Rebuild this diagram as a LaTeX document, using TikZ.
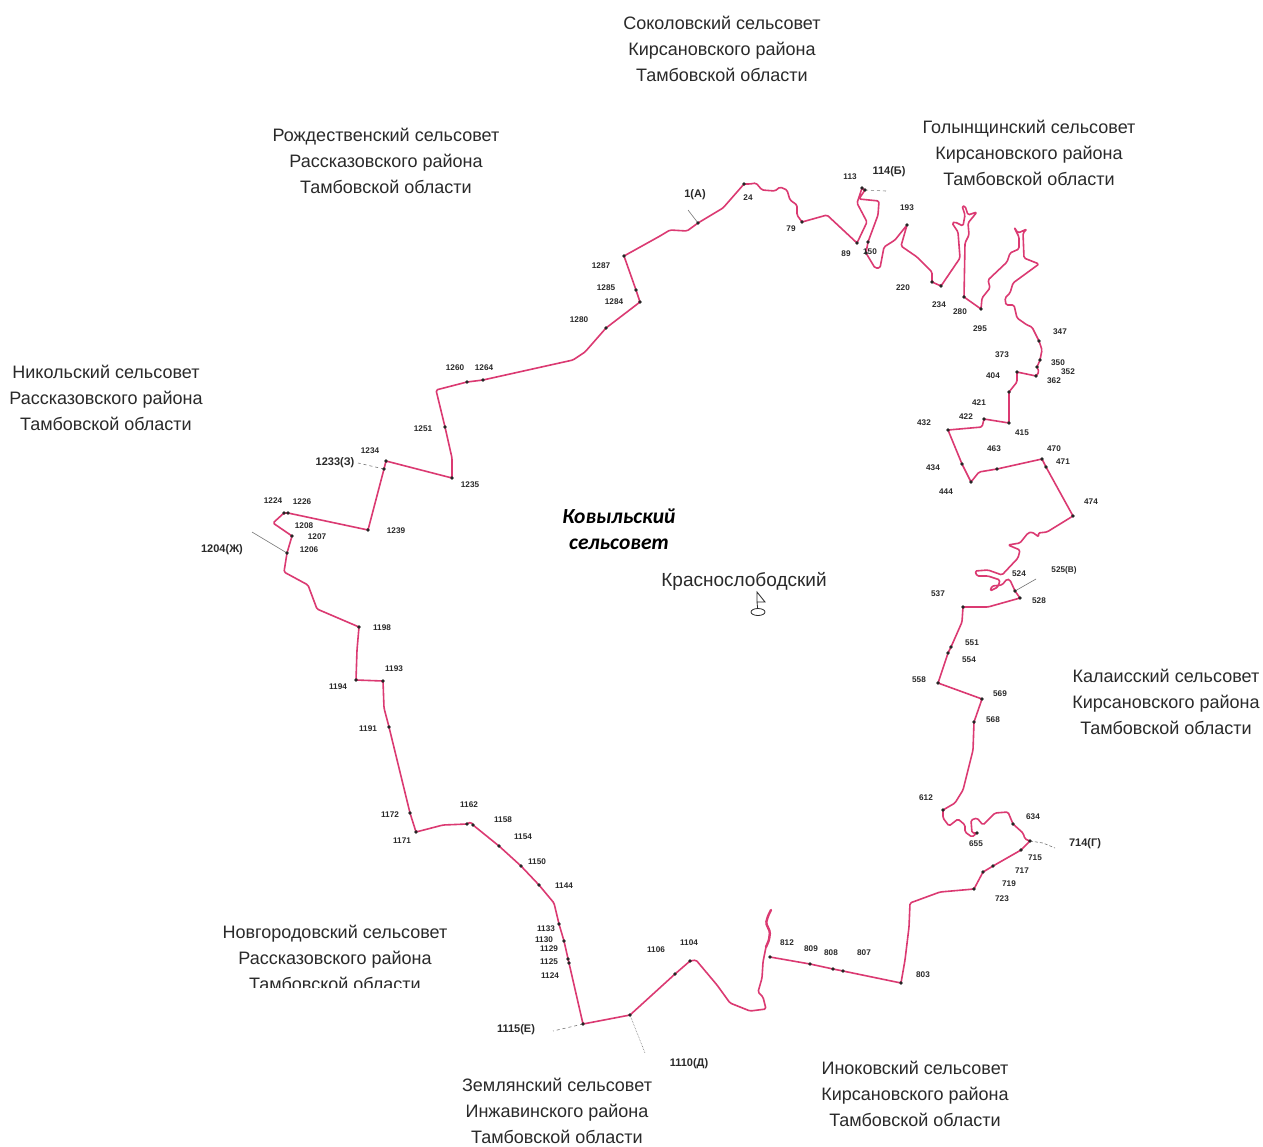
\documentclass[tikz,border=0pt]{standalone}
\usepackage{fontspec}
\setmainfont{Liberation Sans}
\newfontfamily\carl{Carlito}
\definecolor{bound}{HTML}{DB3A72}
\definecolor{lead}{HTML}{777777}
\definecolor{txt}{HTML}{2A2A2A}
\tikzset{
  region/.style={align=center,inner sep=0pt,text=txt,font=\fontsize{18}{26}\selectfont},
  lab/.style={inner sep=0pt,text=txt,font=\fontsize{8.2}{9}\selectfont\bfseries},
  biglab/.style={inner sep=0pt,text=txt,font=\fontsize{11}{12}\selectfont\bfseries},
  border/.style={draw=bound,line width=1.6pt,line join=round,line cap=round,rounded corners=1.5pt},
  leader/.style={draw=lead,line width=0.6pt},
  mark dot/.style={circle,fill=black!85,inner sep=0pt,minimum size=3.6pt}
}
\begin{document}
\begin{tikzpicture}[x=1pt,y=-1pt]
\useasboundingbox (0,0) rectangle (1263,1146);
\fill[white] (0,0) rectangle (1263,1146);
% leaders
\coordinate (pA) at (698,223); \coordinate (eA) at (688,210);
\coordinate (pB) at (865,190); \coordinate (eB) at (886,191);
\coordinate (pV) at (1015,591); \coordinate (eV) at (1036,579);
\coordinate (pG) at (1030,841); \coordinate (eG) at (1055,848); \coordinate (mG) at (1043,843);
\coordinate (pE) at (583,1024); \coordinate (eE) at (553,1031);
\coordinate (pD) at (630,1015); \coordinate (eD) at (645,1053);
\coordinate (pZh) at (287,553); \coordinate (eZh) at (252,532);
\coordinate (pZ) at (384,469); \coordinate (eZ) at (358,463);
\draw[leader] (pA) -- (eA);
\draw[leader,dashed] (pB) -- (eB);
\draw[leader] (pV) -- (eV);
\draw[leader,densely dashed] (pG) -- (mG) -- (eG);
\draw[leader,dashed] (pE) -- (eE);
\draw[leader,densely dotted] (pD) -- (eD);
\draw[leader] (pZh) -- (eZh);
\draw[leader,dashed] (pZ) -- (eZ);
% boundary
\draw[border]
 (624,256) -- (660,236) -- (670,230) -- (687,231) -- (698,223) -- (723,208) -- (744,184)
 -- (750,184) -- (756,183) -- (762,190) -- (775,191) -- (780,187) -- (787,190) -- (790,200)
 -- (797,205) -- (797,215) -- (802,222) -- (827,215) -- (857,243) -- (867,222) -- (857,203)
 -- (862,188) -- (865,190) -- (859,199) -- (879,201) -- (878,215) -- (868,242) -- (866,253)
 -- (875,268) -- (880,268) -- (884,247) -- (895,240) -- (907,225) -- (901,246) -- (917,257)
 -- (932,272) -- (932,282) -- (941,286) -- (960,258) -- (958,232) -- (952,223) -- (955,222)
 -- (963,226) -- (965,215) -- (962,206) -- (965,206) -- (968,215) -- (977,212) -- (968,223)
 -- (969,235) -- (965,243) -- (964,297) -- (981,309) -- (982,298) -- (990,288) -- (988,280)
 -- (1007,262) -- (1010,253) -- (1019,249) -- (1019,237) -- (1014,227) -- (1018,233)
 -- (1027,229) -- (1023,233) -- (1024,258) -- (1039,264) -- (1013,283) -- (1010,293)
 -- (1005,298) -- (1006,305) -- (1014,305) -- (1017,318) -- (1027,325) -- (1032,327)
 -- (1039,341) -- (1042,350) -- (1040,360) -- (1037,367) -- (1039,372) -- (1036,376)
 -- (1017,372) -- (1017,382) -- (1009,392) -- (1009,423) -- (984,419) -- (982,427)
 -- (948,430) -- (962,464) -- (971,482) -- (979,472) -- (997,469) -- (1042,459) -- (1046,467)
 -- (1073,516) -- (1047,532) -- (1038,533) -- (1039,537) -- (1032,532) -- (1028,533)
 -- (1020,543) -- (1008,545) -- (1020,550) -- (1018,558) -- (1002,575) -- (988,570)
 -- (975,571) -- (977,576) -- (988,576) -- (1000,580) -- (998,587) -- (990,591) -- (992,586)
 -- (1002,585) -- (1007,579) -- (1010,580) -- (1015,591) -- (1020,598) -- (988,607)
 -- (963,607) -- (962,622) -- (951,647) -- (948,653) -- (938,683) -- (982,699) -- (974,722)
 -- (973,750) -- (968,770) -- (963,790) -- (955,803) -- (943,810) -- (943,818) -- (949,826)
 -- (958,819) -- (965,825) -- (965,832) -- (972,837) -- (977,833) -- (972,833) -- (971,820)
 -- (977,818) -- (983,825) -- (995,813) -- (1008,812) -- (1013,824) -- (1023,833)
 -- (1025,839) -- (1030,841) -- (1021,850) -- (993,866) -- (983,872) -- (974,889)
 -- (940,892) -- (910,903) -- (909,927) -- (905,960) -- (901,983) -- (843,971) -- (833,969)
 -- (810,964) -- (770,957);
\draw[border] (766,947) -- (763,962) -- (762,978) -- (758,992) -- (763,997) -- (766,1009)
 -- (750,1011) -- (730,1003) -- (717,985) -- (696,960) -- (690,961) -- (675,974)
 -- (630,1015) -- (583,1024) -- (569,963) -- (564,941) -- (559,924) -- (554,903)
 -- (539,885) -- (521,866) -- (499,846) -- (473,825) -- (471,822) -- (467,824) -- (443,825)
 -- (416,832) -- (410,813) -- (389,727) -- (384,708) -- (383,681) -- (356,680) -- (357,650)
 -- (359,627) -- (317,609) -- (308,585) -- (284,572) -- (287,553) -- (292,536) -- (273,523)
 -- (284,513) -- (288,513) -- (368,530) -- (384,469) -- (386,461) -- (452,478) -- (452,458)
 -- (445,427) -- (436,390) -- (467,382) -- (483,380) -- (573,360) -- (585,352) -- (606,328)
 -- (640,302) -- (636,290) -- (624,256);
\draw[border,line width=2.4pt] (766,947) -- (769,940) -- (770,932) -- (766,923) -- (768,916) -- (771,910);
% turning points
\foreach \x/\y in {698/223,744/184,802/222,857/243,862/188,865/190,868/242,866/253,907/225,932/282,941/286,
 964/297,981/309,1039/341,1040/360,1037/367,1036/376,1017/372,1009/392,1009/423,984/419,948/430,962/464,971/482,
 997/469,1042/459,1046/467,1073/516,1015/591,1020/598,963/607,951/647,948/653,938/683,982/699,974/722,943/810,977/833,
 1013/824,1030/841,1021/850,993/866,983/872,974/889,901/983,843/971,833/969,810/964,770/957,690/961,675/974,630/1015,583/1024,
 569/963,568/959,564/941,559/924,539/885,521/866,499/846,473/825,467/824,416/832,410/813,389/727,383/681,356/680,
 359/627,287/553,292/536,284/513,288/513,368/530,384/469,386/461,452/478,445/427,467/382,483/380,606/328,640/302,636/290,624/256}
 \node[mark dot] at (\x,\y) {};
% small labels
\foreach \x/\y/\t in {748/198/24,791/229/79,850/177/113,846/254/89,870/252/150,907/208/193,903/288/220,939/305/234,
 960/312/280,980/329/295,1060/332/347,1002/355/373,1058/363/350,1068/372/352,1054/381/362,993/376/404,979/403/421,
 966/417/422,924/423/432,1022/433/415,994/449/463,1054/449/470,1063/462/471,933/468/434,946/492/444,1091/502/474,
 1019/574/524,938/594/537,1039/601/528,972/643/551,969/660/554,919/680/558,1000/694/569,993/720/568,926/798/612,
 1033/817/634,976/844/655,1035/858/715,1022/871/717,1009/884/719,1002/899/723,923/975/803,787/943/812,811/949/809,
 831/953/808,864/953/807,689/943/1104,656/950/1106,564/886/1144,546/929/1133,544/940/1130,549/949/1129,549/962/1125,
 550/976/1124,394/669/1193,338/687/1194,368/729/1191,390/815/1172,402/841/1171,469/805/1162,503/820/1158,523/837/1154,
 537/862/1150,382/628/1198,396/531/1239,273/501/1224,302/502/1226,304/526/1208,317/537/1207,309/550/1206,370/451/1234,
 470/485/1235,423/429/1251,455/368/1260,484/368/1264,579/320/1280,614/302/1284,606/288/1285,601/266/1287}
 \node[lab] (n\t) at (\x,\y) {\t};
\node[lab] (n525) at (1064,570) {525(В)};
\node[biglab] (n1) at (695,195) {1(А)};
\node[biglab] (n114) at (889,172) {114(Б)};
\node[biglab] (n714) at (1085,844) {714(Г)};
\node[biglab] (n1115) at (516,1030) {1115(Е)};
\node[biglab] (n1110) at (689,1064) {1110(Д)};
\node[biglab] (n1204) at (222,550) {1204(Ж)};
\node[biglab] (n1233) at (335,463) {1233(З)};
% regions
\node[region] (sok) at (722,49) {Соколовский сельсовет\\Кирсановского района\\Тамбовской области};
\node[region] (gol) at (1029,153) {Голынщинский сельсовет\\Кирсановского района\\Тамбовской области};
\node[region] (roz) at (386,161) {Рождественский сельсовет\\Рассказовского района\\Тамбовской области};
\node[region] (nik) at (106,398) {Никольский сельсовет\\Рассказовского района\\Тамбовской области};
\node[region] (kal) at (1166,702) {Калаисский сельсовет\\Кирсановского района\\Тамбовской области};
\node[region] (nov) at (335,958) {Новгородовский сельсовет\\Рассказовского района\\Тамбовской области};
\fill[white] (215,988) rectangle (455,1000);
\node[region] (ino) at (915,1094) {Иноковский сельсовет\\Кирсановского района\\Тамбовской области};
\node[region] (zem) at (557,1111) {Землянский сельсовет\\Инжавинского района\\Тамбовской области};
% centre
\node[inner sep=0pt,align=center,font=\carl\fontsize{21.5}{26}\selectfont\bfseries\itshape] (kov) at (619,529) {Ковыльский\\сельсовет};
\node[inner sep=0pt,text=txt,font=\fontsize{19}{21}\selectfont] (kra) at (744,581) {Краснослободский};
\coordinate (f1) at (757,592); \coordinate (f2) at (765,602); \coordinate (f3) at (757,602); \coordinate (f4) at (758,612);
\draw[line width=0.8pt,draw=txt] (f4) -- (f3) -- (f1) -- (f2) -- (f3);
\draw[line width=0.8pt,draw=txt,fill=white] (f4) ellipse [x radius=7,y radius=3.5];
\end{tikzpicture}
\end{document}
